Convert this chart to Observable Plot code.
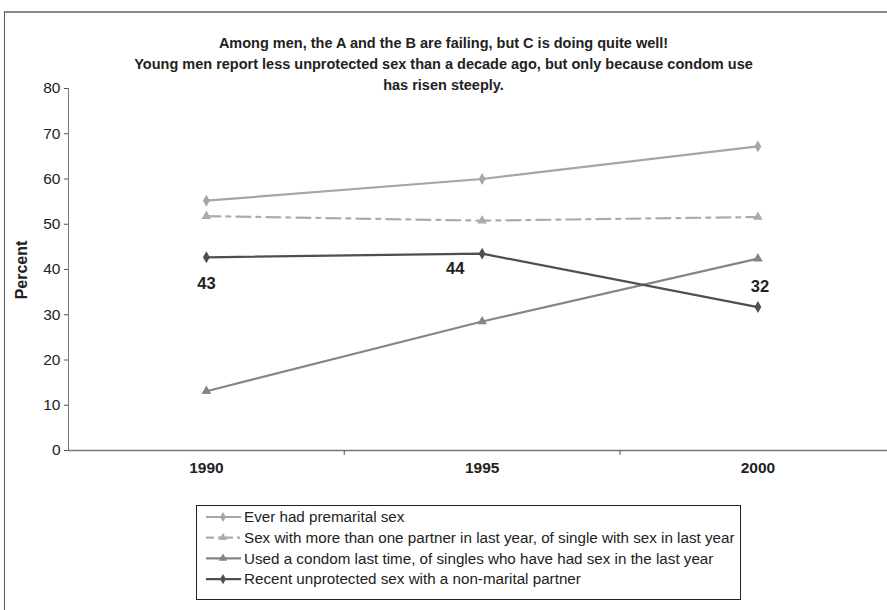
<!DOCTYPE html>
<html><head><meta charset="utf-8">
<script src="https://cdn.jsdelivr.net/npm/d3@7"></script>
<script src="https://cdn.jsdelivr.net/npm/@observablehq/plot@0.6"></script>
<style>
body{margin:0;background:#fff;font-family:"Liberation Sans",Arial,sans-serif;}
#wrap{position:relative;width:887px;height:610px;overflow:hidden;background:#fff;}
#frame{position:absolute;left:4px;top:11px;width:900px;height:700px;border-left:1px solid #555;border-top:2px solid #888;}
#title{position:absolute;left:0;width:887px;top:33px;text-align:center;font-weight:bold;font-size:14.5px;line-height:21px;color:#222;}
#chart{position:absolute;left:0;top:0;}
#legend{position:absolute;left:196px;top:505px;width:543px;height:93px;border:1px solid #222;background:#fff;}
</style></head>
<body><div id="wrap"><div id="frame"></div><div id="chart"></div><div id="title"></div><div id="legend"></div></div>
<script>
const years = [1990, 1995, 2000];
const seriesNames = [
  "Ever had premarital sex",
  "Sex with more than one partner in last year, of single with sex in last year",
  "Used a condom last time, of singles who have had sex in the last year",
  "Recent unprotected sex with a non-marital partner"
];
const premarital = [55.2, 60.0, 67.2];
const multiPartner = [51.8, 50.8, 51.6];
const condom = [13.1, 28.5, 42.4];
const unprotected = [42.7, 43.5, 31.7];
const unprotectedLabels = ["43", "44", "32"];
const yTicks = [0, 10, 20, 30, 40, 50, 60, 70, 80];
const titleLines = [
  "Among men, the A and the B are failing, but C is doing quite well!",
  "Young men report less unprotected sex than a decade ago, but only because condom use",
  "has risen steeply."
];

const values = [premarital, multiPartner, condom, unprotected];
const styles = [
  {stroke: "#a6a6a6", dash: null, symbol: "diamond"},
  {stroke: "#ababab", dash: "14,6,4,6", symbol: "triangle"},
  {stroke: "#858585", dash: null, symbol: "triangle"},
  {stroke: "#4f4f4f", dash: null, symbol: "diamond"}
];
const rows = seriesNames.map((s, k) => years.map((yr, i) => ({year: yr, value: values[k][i], series: s})));

document.getElementById("title").innerHTML = titleLines.join("<br>");

const marks = [
  Plot.ruleY([0], {stroke: "#777", strokeWidth: 1.5}),
  Plot.ruleX([1987.5], {y1: 0, y2: 80, stroke: "#777"}),
  Plot.axisY({ticks: yTicks, tickSize: 4, tickPadding: 4, fontSize: 15.5, label: null, stroke: "#555", fill: "#222"}),
  Plot.axisX({ticks: [1992.5, 1997.5], tickSize: 5, tickFormat: () => "", label: null, stroke: "#555"}),
  Plot.text(years, {x: d => d, y: 0, text: d => String(d), dy: 11, lineAnchor: "top", fontWeight: "bold", fontSize: 15.5, fill: "#222"})
];
rows.forEach((r, k) => {
  const st = styles[k];
  marks.push(Plot.line(r, {x: "year", y: "value", stroke: st.stroke, strokeWidth: 2.2, strokeDasharray: st.dash}));
  marks.push(Plot.dot(r, {x: "year", y: "value", symbol: () => st.symbol, fill: st.stroke, stroke: "none", r: 3.6}));
});
const labelOffsets = [[0, 26], [-27, 15], [2, -20]];
labelOffsets.forEach((o, i) => {
  marks.push(Plot.text(rows[3].filter((d, j) => j === i), {x: "year", y: "value", text: () => unprotectedLabels[i], dx: o[0], dy: o[1], fontWeight: "bold", fontSize: 16.5, fill: "#222"}));
});

const plot = Plot.plot({
  width: 887, height: 500,
  marginLeft: 68, marginRight: 0, marginTop: 88, marginBottom: 50,
  style: {fontFamily: "'Liberation Sans', Arial, sans-serif", background: "transparent", color: "#222"},
  x: {type: "linear", domain: [1987.5, 2002.35], axis: null},
  y: {domain: [0, 80], axis: null},
  symbol: {type: "identity"},
  marks
});
d3.select(plot).append("text")
  .attr("transform", "translate(27,270) rotate(-90)")
  .attr("text-anchor", "middle")
  .attr("font-weight", "bold").attr("font-size", 16).attr("fill", "#222")
  .text("Percent");
document.getElementById("chart").appendChild(plot);

// legend
const lw = 543, lh = 93;
const lsvg = d3.select("#legend").append("svg").attr("width", lw).attr("height", lh)
  .style("font-family", "'Liberation Sans', Arial, sans-serif");
seriesNames.forEach((name, k) => {
  const st = styles[k];
  const g = lsvg.append("g").attr("transform", `translate(0,${11 + k * 20.7})`);
  g.append("line").attr("x1", 9).attr("x2", 44).attr("y1", 0).attr("y2", 0)
    .attr("stroke", st.stroke).attr("stroke-width", 2.2).attr("stroke-dasharray", st.dash ? "8,4,3,4" : null);
  g.append("path").attr("transform", "translate(26,0)")
    .attr("d", d3.symbol(st.symbol === "diamond" ? d3.symbolDiamond : d3.symbolTriangle, 30)())
    .attr("fill", st.stroke);
  g.append("text").attr("x", 47).attr("y", 0).attr("dy", "0.35em").attr("font-size", 15.2).attr("fill", "#222").text(name);
});
</script></body></html>
